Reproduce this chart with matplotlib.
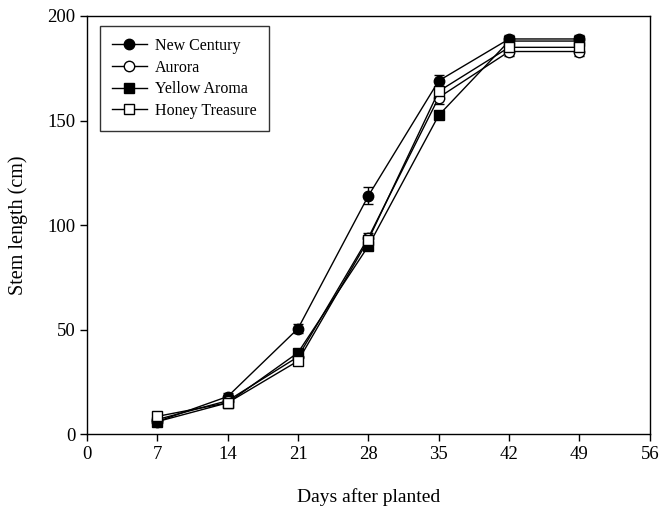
import matplotlib.pyplot as plt

plt.rcParams["font.family"] = ["Liberation Serif", "DejaVu Serif"]

DAYS = [7, 14, 21, 28, 35, 42, 49]

NEW_CENTURY = [6, 18, 50.5, 114, 169, 189, 189]
NEW_CENTURY_ERR = [1, 1.5, 2, 4, 3, 2, 2]
AURORA = [7, 16, 37, 94, 161, 183, 183]
AURORA_ERR = [1, 1, 1.5, 2, 3, 2, 2]
YELLOW_AROMA = [6, 15, 39, 90, 152.5, 188, 188]
YELLOW_AROMA_ERR = [1, 1, 1.5, 2, 2, 2, 2]
HONEY_TREASURE = [8.5, 15, 35, 93, 164, 185, 185]
HONEY_TREASURE_ERR = [1, 1, 1.5, 2, 2.5, 2, 2]

SERIES = [
    ("New Century", NEW_CENTURY, NEW_CENTURY_ERR, "o", "black"),
    ("Aurora", AURORA, AURORA_ERR, "o", "white"),
    ("Yellow Aroma", YELLOW_AROMA, YELLOW_AROMA_ERR, "s", "black"),
    ("Honey Treasure", HONEY_TREASURE, HONEY_TREASURE_ERR, "s", "white"),
]


def main() -> None:
    fig = plt.figure(figsize=(6.61, 5.15), dpi=100)
    ax = fig.add_axes([0.1316, 0.157, 0.8514, 0.812])

    for label, values, errs, marker, face in SERIES:
        ax.errorbar(
            DAYS,
            values,
            yerr=errs,
            marker=marker,
            markersize=7.5,
            markerfacecolor=face,
            markeredgecolor="black",
            markeredgewidth=1.0,
            color="black",
            linewidth=1.0,
            ecolor="black",
            elinewidth=1.0,
            capsize=3.5,
            label=label,
        )

    ax.set_xlim(0, 56)
    ax.set_ylim(0, 200)
    ax.set_xticks(range(0, 57, 7))
    ax.set_yticks(range(0, 201, 50))
    ax.tick_params(direction="out", length=5, width=1, labelsize=13.5, colors="black")
    for spine in ax.spines.values():
        spine.set_linewidth(1.0)

    ax.set_xlabel("Days after planted", fontsize=14, labelpad=18)
    ax.set_ylabel("Stem length (cm)", fontsize=14.5, labelpad=14)

    handles, labels = ax.get_legend_handles_labels()
    handles = [h[0] for h in handles]
    leg = ax.legend(
        handles,
        labels,
        loc="upper left",
        bbox_to_anchor=(0.023, 0.976),
        borderaxespad=0,
        fontsize=11.5,
        frameon=True,
        fancybox=False,
        edgecolor="black",
        handlelength=2.2,
        borderpad=0.75,
        labelspacing=0.35,
        handletextpad=0.5,
    )
    leg.get_frame().set_linewidth(1.0)

    fig.savefig("out.png", dpi=100)
    plt.close(fig)


if __name__ == "__main__":
    main()
